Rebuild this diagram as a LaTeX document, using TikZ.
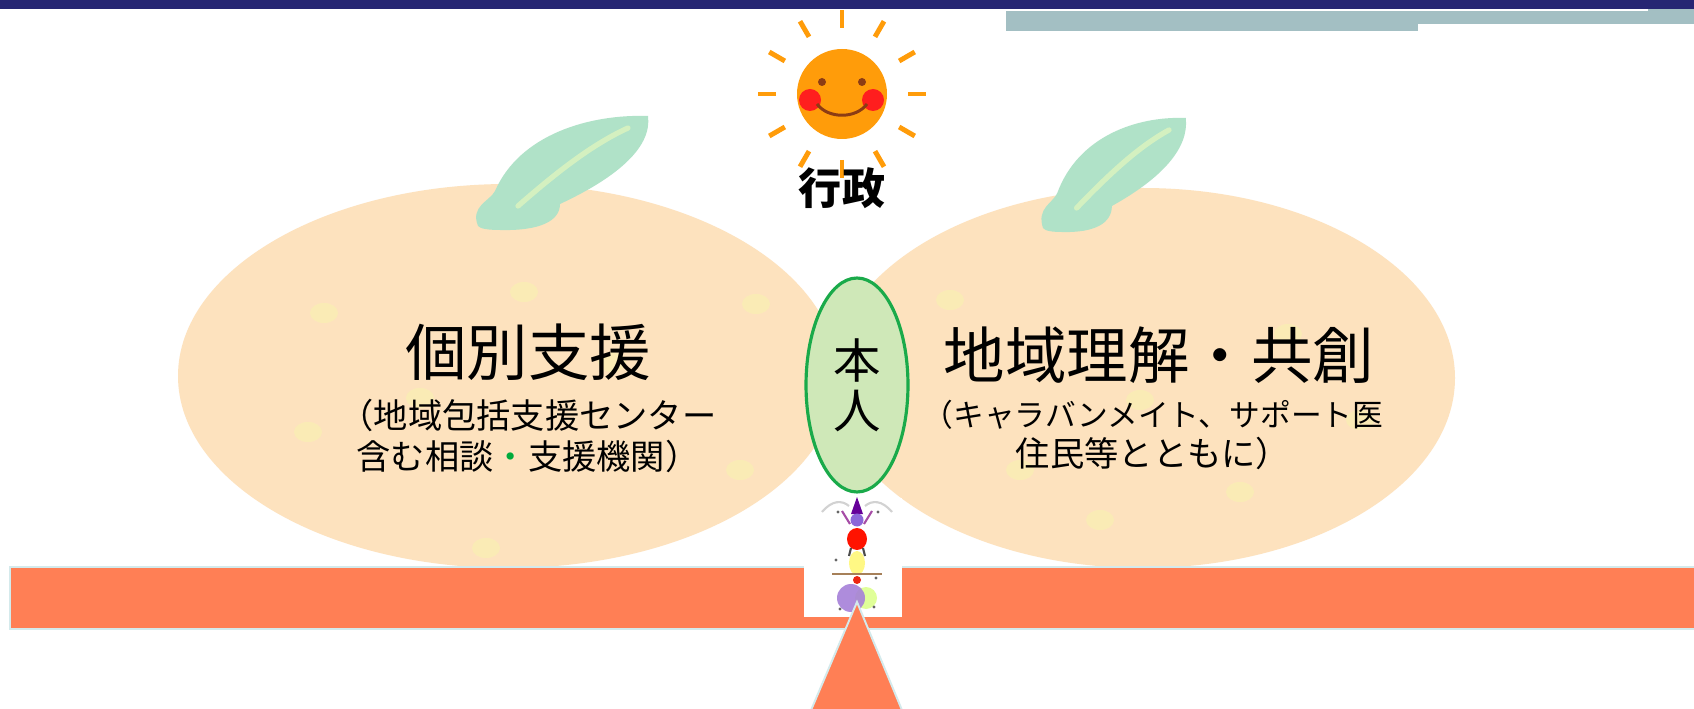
\documentclass[tikz,border=0pt]{standalone}
\usepackage{fontspec}
\newfontfamily\jpfont{Noto Sans CJK JP}
\usetikzlibrary{shapes.geometric}

\definecolor{navy}{RGB}{38,38,115}
\definecolor{headgray}{RGB}{163,191,195}
\definecolor{peel}{RGB}{253,226,190}
\definecolor{spotyellow}{RGB}{250,240,178}
\definecolor{leafgreen}{RGB}{176,226,200}
\definecolor{leaflight}{RGB}{222,244,190}
\definecolor{sunorange}{RGB}{255,156,10}
\definecolor{cheekred}{RGB}{255,30,30}
\definecolor{facebrown}{RGB}{140,60,20}
\definecolor{selfgreen}{RGB}{26,170,74}
\definecolor{selffill}{RGB}{207,232,184}
\definecolor{coral}{RGB}{255,127,85}
\definecolor{edgecyan}{RGB}{212,234,236}
\definecolor{dotgreen}{RGB}{0,170,60}

\begin{document}
\begin{tikzpicture}[x=0.02cm,y=-0.02cm,
    ray/.style={draw=sunorange,line width=2.8pt},
    spot/.style={fill=spotyellow,opacity=0.7},
    title/.style={font=\jpfont\fontsize{35}{40}\selectfont},
    sub/.style={font=\jpfont\fontsize{19.5}{23.3}\selectfont,align=center}]
    \useasboundingbox (0,0) rectangle (1694,709);
    \fill[white] (0,0) rectangle (1694,709);

    % header bars
    \fill[navy] (0,0) rectangle (1694,9);
    \fill[headgray] (1006,11) rectangle (1418,31);
    \fill[headgray] (1418,11) rectangle (1694,24);
    \fill[headgray] (1648,9) rectangle (1694,24);

    % the two mandarins
    \fill[peel] (508,376) ellipse (330 and 192);
    \fill[peel] (1143,378) ellipse (312 and 190);
    \foreach \x/\y in {324/313, 524/292, 756/304, 308/432, 612/362, 740/470, 486/548, 420/398}
        \fill[spot] (\x,\y) ellipse (14 and 10);
    \foreach \x/\y in {950/300, 1288/334, 1020/470, 1240/492, 1100/520, 1360/420, 1140/400}
        \fill[spot] (\x,\y) ellipse (14 and 10);

    % leaves
    \foreach \bx/\by/\sx in {478/226/1, 1043/228/0.84} {
        \begin{scope}[shift={(\bx,\by)},xscale=\sx]
            \fill[leafgreen] (0,0) .. controls (-8,-20) and (12,-25) .. (17,-35)
                .. controls (42,-92) and (112,-112) .. (170,-110)
                .. controls (174,-80) and (142,-50) .. (82,-22)
                .. controls (82,-5) and (62,5) .. (22,4)
                .. controls (12,4) and (2,3) .. (0,0) -- cycle;
            \draw[leaflight,line width=3pt,line cap=round,opacity=0.8]
                (40,-20) .. controls (80,-55) and (115,-82) .. (150,-98);
        \end{scope}
    }

    % sun
    \foreach \a in {0,30,...,330}
        \draw[ray] (842,94) ++(\a:66) -- ++(\a:18);
    \fill[sunorange] (842,94) circle (45);
    \fill[cheekred] (810,100) circle (11);
    \fill[cheekred] (873,100) circle (11);
    \fill[facebrown] (822,82) circle (4);
    \fill[facebrown] (862,82) circle (4);
    \draw[facebrown,line width=1.7pt] (817,104) .. controls (828,119) and (856,119) .. (867,104);
    \node (gyosei) at (842,188) {\jpfont\bfseries\fontsize{24.5}{28}\selectfont 行政};

    % texts on the mandarins
    \node[title] (kobetsu) at (528,352) {個別支援};
    \node[sub] (kobetsusub) at (528,436) {（地域包括支援センター\\含む相談{\color{dotgreen}・}支援機関）};
    \node[title] (chiiki) at (1159,355) {地域理解・共創};
    \node[sub] (chiikisub) at (1153,435) {\fontsize{17.5}{23.3}\selectfont（キャラバンメイト、サポート医\\住民等とともに）};

    % the person in the middle
    \node[ellipse,draw=selfgreen,fill=selffill,line width=1.8pt,
          minimum width=2.04cm,minimum height=4.28cm,inner sep=0pt,
          align=center,font=\jpfont\fontsize{27}{28.5}\selectfont] (honnin) at (857,385) {本\\人};

    % seesaw board
    \filldraw[fill=coral,draw=edgecyan,line width=1.1pt] (10,567) rectangle (1700,629);

    % balancing clown
    \fill[white] (804,498) rectangle (902,617);
    \draw[gray!35,line width=1.2pt] (822,512) .. controls (832,500) and (842,500) .. (849,506);
    \draw[gray!35,line width=1.2pt] (865,506) .. controls (872,500) and (882,500) .. (892,512);
    \draw[violet!70,line width=1.2pt] (850,524) -- (842,511);
    \draw[violet!70,line width=1.2pt] (864,524) -- (872,511);
    \fill[violet!80!blue] (851,514) -- (857,497) -- (863,514) -- cycle;
    \fill[violet!50!blue!60] (857,520) circle (6.5);
    \fill[red!85!orange] (857,539) ellipse (10 and 11);
    \draw[black!70,line width=1.2pt] (851,548) -- (849,556);
    \draw[black!70,line width=1.2pt] (863,548) -- (865,556);
    \fill[yellow!60,opacity=0.8] (857,563) ellipse (8 and 12);
    \draw[brown!60!gray,line width=1pt] (832,574) -- (882,574);
    \fill[red!70!brown] (857,580) circle (4);
    \fill[green!30!yellow!50,opacity=0.8] (866,598) circle (11);
    \fill[blue!40!violet!50,opacity=0.9] (851,598) circle (14);
    \foreach \x/\y in {838/512, 878/512, 836/560, 876/578, 840/609, 874/607}
        \fill[black!60] (\x,\y) circle (1.6);

    % fulcrum
    \filldraw[fill=coral,draw=edgecyan,line width=1.1pt] (857,602) -- (904,715) -- (809,715) -- cycle;
\end{tikzpicture}
\end{document}
